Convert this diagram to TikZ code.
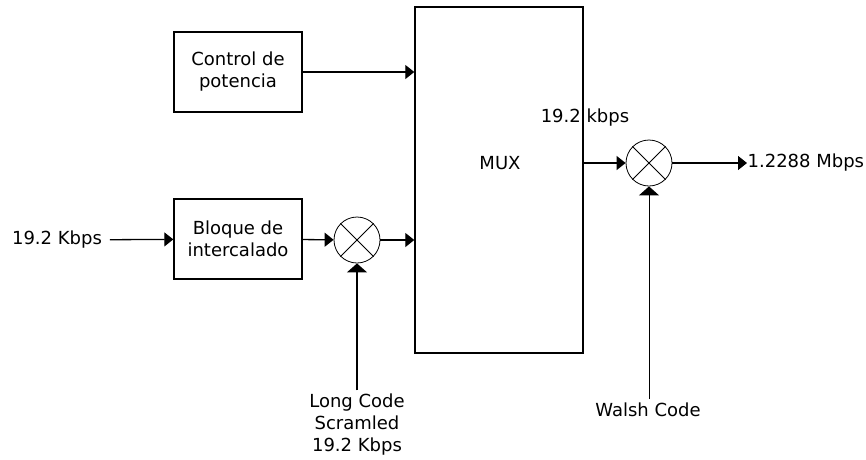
\documentclass[tikz,border=0pt]{standalone}
\usepackage{fontspec}
\setmainfont{DejaVu Sans}
\usetikzlibrary{arrows.meta}

\begin{document}
\begin{tikzpicture}[x=1pt, y=-1pt, line width=1.3pt,
    every node/.style={font=\fontsize{18}{22}\selectfont},
    bloque/.style={draw, line width=1.4pt, minimum width=128pt, minimum height=80pt, align=center, inner sep=0pt},
    mult/.style={draw, circle, line width=0.8pt, minimum size=46pt, inner sep=0pt},
    flecha/.style={-{Triangle[length=9pt, width=14pt]}},
    flechav/.style={-{Triangle[length=9pt, width=20pt]}}]
    \useasboundingbox (0,0) rectangle (866,459);

    % bloques
    \node[bloque] (control) at (238,72) {Control de\\potencia};
    \node[bloque] (intercalado) at (238,239) {Bloque de\\intercalado};
    \node[draw, line width=1.4pt, minimum width=168pt, minimum height=346pt, inner sep=0pt] (mux) at (499,180) {};
    \node (muxtxt) at (500,163) {MUX};

    % multiplicadores
    \node[mult] (m1) at (357,240) {};
    \node[mult] (m2) at (649,163) {};
    \foreach \m in {m1, m2} {
        \draw[line width=0.8pt] (\m.45) -- (\m.225);
        \draw[line width=0.8pt] (\m.135) -- (\m.315);
    }

    % textos
    \node (entrada) at (57,240) {19.2 Kbps};
    \node (tasa) at (585,118) {19.2 kbps};
    \node[anchor=west, inner sep=0pt] (salida) at (747,163) {1.2288 Mbps};
    \node[align=center] (largo) at (357,425) {Long Code\\Scramled\\19.2 Kbps};
    \node (walsh) at (648,410) {Walsh Code};

    % conexiones
    \draw[flecha, shorten <=4pt] (entrada) -- (intercalado);
    \draw[flecha] (control) -- (control -| mux.west);
    \draw[flecha] (intercalado) -- (m1);
    \draw[flecha] (m1) -- (m1 -| mux.west);
    \draw[flecha] (mux.east |- m2) -- (m2);
    \draw[flecha] (m2) -- (salida);
    \draw[flechav] (m1 |- largo.north) -- (m1);
    \draw[flechav, line width=1pt] (m2 |- walsh.north) -- (m2);
\end{tikzpicture}
\end{document}
